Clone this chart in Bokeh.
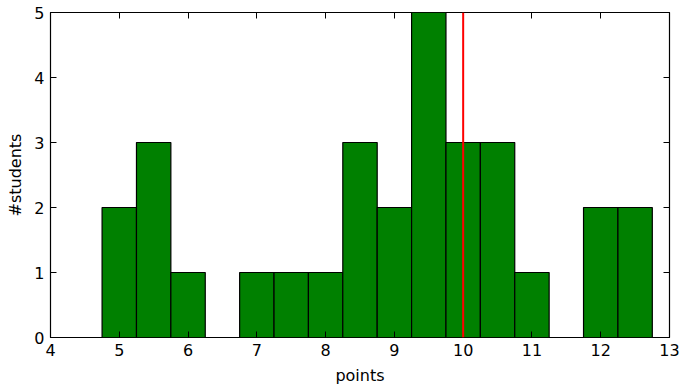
from bokeh.plotting import figure
from bokeh.models import Range1d, LinearAxis, FixedTicker, Span
from bokeh.embed import file_html
from bokeh.resources import INLINE

bin_edges = [4.75, 5.25, 5.75, 6.25, 6.75, 7.25, 7.75, 8.25, 8.75, 9.25, 9.75, 10.25, 10.75, 11.25, 11.75, 12.25, 12.75]
counts = [2, 3, 1, 0, 1, 1, 1, 3, 2, 5, 3, 3, 1, 0, 2, 2]
threshold = 10
x_ticks = [4, 5, 6, 7, 8, 9, 10, 11, 12, 13]
y_ticks = [0, 1, 2, 3, 4, 5]

FONT = "DejaVu Sans"

p = figure(frame_width=619, frame_height=325, output_backend="svg", toolbar_location=None,
           x_range=Range1d(4, 13), y_range=Range1d(0, 5),
           min_border_left=50, min_border_right=19, min_border_top=12, min_border_bottom=42)
p.background_fill_color = "white"
p.border_fill_color = "white"
p.outline_line_color = "black"
p.outline_line_width = 1.2
p.xgrid.visible = False
p.ygrid.visible = False

lefts = bin_edges[:-1]
rights = bin_edges[1:]
p.quad(left=lefts, right=rights, top=counts, bottom=[0] * len(counts),
       fill_color="#008000", line_color="black", line_width=1.2)

p.add_layout(Span(location=threshold, dimension="height", line_color="red", line_width=2))

p.xaxis.ticker = FixedTicker(ticks=x_ticks)
p.yaxis.ticker = FixedTicker(ticks=y_ticks)
p.xaxis.axis_label = "points"
p.yaxis.axis_label = "#students"
for ax in p.xaxis + p.yaxis:
    ax.major_tick_in = 6
    ax.major_tick_out = 0
    ax.minor_tick_in = 0
    ax.minor_tick_out = 0
    ax.axis_line_color = None
    ax.major_tick_line_color = "black"
    ax.major_label_text_font = FONT
    ax.major_label_text_font_size = "16px"
    ax.major_label_text_color = "black"
    ax.axis_label_text_font = FONT
    ax.axis_label_text_font_size = "16px"
    ax.axis_label_text_font_style = "normal"
    ax.axis_label_text_color = "black"
p.xaxis.major_label_standoff = 6
p.yaxis.major_label_standoff = 6
p.xaxis.axis_label_standoff = 7
p.yaxis.axis_label_standoff = 6

top = LinearAxis(ticker=FixedTicker(ticks=x_ticks))
right = LinearAxis(ticker=FixedTicker(ticks=y_ticks))
p.add_layout(top, "above")
p.add_layout(right, "right")
for ax in (top, right):
    ax.major_tick_in = 6
    ax.major_tick_out = 0
    ax.minor_tick_in = 0
    ax.minor_tick_out = 0
    ax.axis_line_color = None
    ax.major_label_text_alpha = 0
    ax.major_label_text_font_size = "1px"
    ax.major_label_standoff = 0

open("out.html", "w").write(file_html(p, INLINE))
